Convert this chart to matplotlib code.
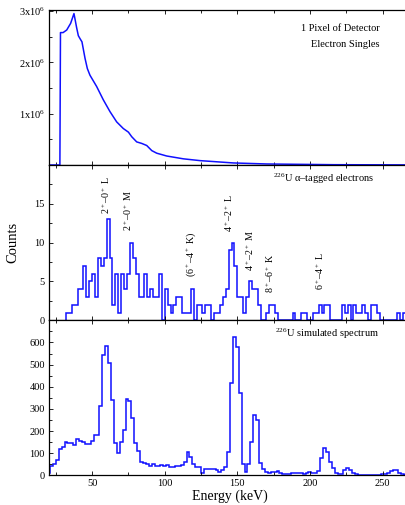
import numpy as np
import matplotlib
matplotlib.use("Agg")
import matplotlib.pyplot as plt
from matplotlib.ticker import MultipleLocator, FixedLocator

plt.rcParams['font.family'] = ['Liberation Serif', 'DejaVu Serif']
plt.rcParams['mathtext.fontset'] = 'custom'
plt.rcParams['mathtext.rm'] = 'Liberation Serif'
plt.rcParams['mathtext.it'] = 'Liberation Serif:italic'
plt.rcParams['mathtext.bf'] = 'Liberation Serif:bold'

# top panel: single pixel electron spectrum (counts)
singles_energy = [20, 27.8, 28.2, 30, 32.5, 35.2, 37.5, 39.3, 40.5, 41.7, 43, 45.1, 46.7,
                  48.5, 53.1, 57.7, 62.3, 66.9, 71.5, 75, 77.3, 80.7, 84.2, 87.6, 91.1,
                  94.5, 101.4, 112.9, 124.4, 147.3, 170.3, 216.3, 269]
singles_counts = [0, 0, 2.58e6, 2.58e6, 2.63e6, 2.76e6, 2.95e6, 2.68e6, 2.52e6, 2.46e6,
                  2.4e6, 2.08e6, 1.88e6, 1.75e6, 1.53e6, 1.27e6, 1.04e6, 0.84e6, 0.71e6,
                  0.64e6, 0.55e6, 0.45e6, 0.42e6, 0.38e6, 0.28e6, 0.23e6, 0.175e6,
                  0.12e6, 0.085e6, 0.04e6, 0.02e6, 0.006e6, 0.002e6]

# middle panel: alpha-tagged electrons, 2 keV bins starting at 32 keV
tagged_start = 32
tagged_counts = [1, 1, 2, 2, 4, 4, 7, 3, 5, 6, 3, 8, 7, 8, 13, 8, 2, 6, 1, 6,
                 4, 6, 10, 8, 6, 3, 3, 6, 3, 4, 3, 3, 6, 0, 4, 2, 1, 2, 3, 3,
                 1, 1, 1, 4, 0, 2, 2, 1, 2, 2, 0, 1, 1, 2, 3, 4, 9, 10, 7, 3,
                 3, 1, 3, 5, 4, 4, 2, 0, 0, 1, 2, 2, 1, 0, 0, 0, 0, 0, 1, 0,
                 0, 1, 1, 0, 0, 1, 1, 2, 1, 2, 2, 0, 0, 0, 0, 2, 1, 2, 0, 2,
                 1, 1, 2, 1, 0, 2, 2, 1, 0, 0, 0, 0, 0, 0, 1, 0, 1]

# bottom panel: simulated spectrum, 2 keV bins starting at 19 keV
sim_start = 19
sim_counts = [12, 44, 50, 68, 119, 128, 150, 148, 145, 137, 164, 157, 150, 140, 142, 155,
              181, 181, 311, 543, 585, 507, 340, 145, 100, 151, 205, 344, 336, 261, 145,
              112, 62, 57, 53, 40, 50, 44, 40, 45, 40, 45, 39, 39, 42, 42, 47, 62, 107,
              84, 51, 39, 39, 12, 29, 29, 29, 29, 24, 17, 24, 39, 104, 416, 625, 580,
              372, 50, 14, 50, 151, 271, 249, 57, 27, 17, 12, 14, 15, 18, 12, 6, 6, 6,
              9, 9, 9, 9, 6, 9, 15, 9, 9, 21, 80, 125, 107, 62, 32, 12, 5, 5, 24, 35,
              24, 9, 5, 3, 3, 2, 2, 3, 2, 2, 3, 5, 5, 10, 21, 24, 24, 12, 5, 3]
bin_width = 2

# transition labels in the middle panel
line_labels = [r'2$^+$–0$^+$ L', r'2$^+$–0$^+$ M', r'(6$^+$–4$^+$ K)', r'4$^+$–2$^+$ L',
               r'4$^+$–2$^+$ M', r'8$^+$–6$^+$ K', r'6$^+$–4$^+$ L']
line_energy = [59.5, 74.6, 118.3, 144.3, 158.8, 172.3, 207.0]
line_ypos = [13.7, 11.5, 5.6, 11.4, 6.3, 3.5, 3.9]

col = '#1010ff'
W, H = 406, 505
fig = plt.figure(figsize=(W / 100, H / 100), dpi=100)
left = 49 / W
width = (410 - 49) / W
xmin, xmax = 20.3, 20.3 + (410 - 49) / 1.452

ax1 = fig.add_axes([left, 1 - 165 / H, width, 155 / H])
ax2 = fig.add_axes([left, 1 - 320.3 / H, width, 155.3 / H])
ax3 = fig.add_axes([left, 1 - 475.3 / H, width, 155 / H])

ax1.plot(singles_energy, singles_counts, color=col, lw=1.1)
ax1.set_ylim(0, 3.02e6)
ax1.yaxis.set_major_locator(FixedLocator([1e6, 2e6, 3e6]))
ax1.set_yticklabels([r'1x10$^6$', r'2x10$^6$', r'3x10$^6$'])
ax1.yaxis.set_minor_locator(MultipleLocator(0.5e6))
ax1.text(0.915, 0.88, '1 Pixel of Detector', transform=ax1.transAxes, ha='right',
         va='center', fontsize=7.5)
ax1.text(0.915, 0.775, 'Electron Singles', transform=ax1.transAxes, ha='right',
         va='center', fontsize=7.5)

tag_edges = tagged_start + bin_width * np.arange(len(tagged_counts) + 1)
ax2.stairs(tagged_counts, tag_edges, color=col, lw=1.1)
ax2.set_ylim(0, 20)
ax2.yaxis.set_major_locator(FixedLocator([0, 5, 10, 15]))
ax2.yaxis.set_minor_locator(MultipleLocator(2.5))
ax2.set_ylabel('Counts', fontsize=10.5, labelpad=11)
ax2.text(0.62, 0.91, r'$^{226}$U α–tagged electrons', transform=ax2.transAxes,
         ha='left', va='center', fontsize=7.5)
for lab, e, yv in zip(line_labels, line_energy, line_ypos):
    ax2.text(e, yv, lab, rotation=90, ha='center', va='bottom', fontsize=7.2)

sim_edges = sim_start + bin_width * np.arange(len(sim_counts) + 1)
ax3.stairs(sim_counts, sim_edges, color=col, lw=1.1)
ax3.set_ylim(0, 700)
ax3.yaxis.set_major_locator(FixedLocator([0, 100, 200, 300, 400, 500, 600]))
ax3.yaxis.set_minor_locator(MultipleLocator(50))
ax3.set_xlabel('Energy (keV)', fontsize=10, labelpad=1)
ax3.text(0.625, 0.91, r'$^{226}$U simulated spectrum', transform=ax3.transAxes,
         ha='left', va='center', fontsize=7.5)

for ax in (ax1, ax2, ax3):
    ax.set_xlim(xmin, xmax)
    ax.xaxis.set_major_locator(MultipleLocator(50))
    ax.xaxis.set_minor_locator(MultipleLocator(25))
    ax.tick_params(which='both', direction='in', top=True, right=False, labelsize=7.5,
                   width=0.6, pad=3)
    ax.tick_params(which='major', length=3)
    ax.tick_params(which='minor', length=2)
    ax.spines['right'].set_visible(False)
    for s in ('left', 'top', 'bottom'):
        ax.spines[s].set_linewidth(0.9)
for ax in (ax1, ax2):
    ax.tick_params(axis='x', labelbottom=False)

fig.savefig('out.png', dpi=100)
